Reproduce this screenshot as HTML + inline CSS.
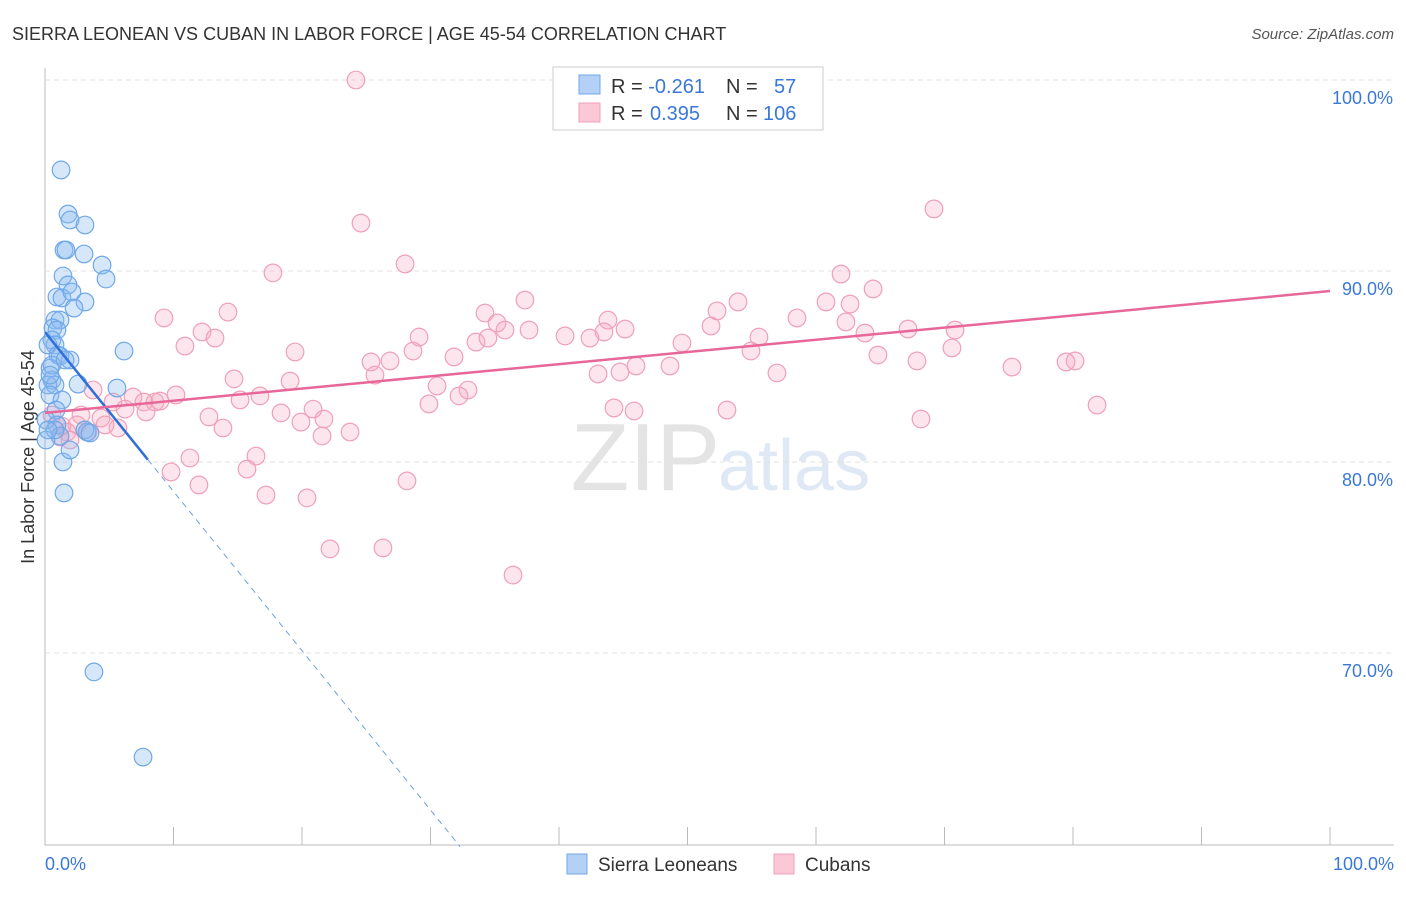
<!DOCTYPE html>
<html><head><meta charset="utf-8"><style>
body{margin:0;background:#fff;font-family:"Liberation Sans",sans-serif}
svg text{font-family:"Liberation Sans",sans-serif}
</style></head><body>
<svg id="c" width="1406" height="892" xmlns="http://www.w3.org/2000/svg">
<text x="12" y="40" font-size="18" fill="#333">SIERRA LEONEAN VS CUBAN IN LABOR FORCE | AGE 45-54 CORRELATION CHART</text>
<text x="1394" y="39" font-size="15" fill="#555" font-style="italic" text-anchor="end">Source: ZipAtlas.com</text>
<text x="720" y="490" font-size="96" fill="#e4e4e4" text-anchor="end" font-family="Liberation Serif">ZIP</text>
<text x="718" y="490" font-size="72" fill="#dfe8f5">atlas</text>
<text transform="translate(34,457) rotate(-90)" font-size="18" fill="#333" text-anchor="middle">In Labor Force | Age 45-54</text>
<g id="grid"></g><g id="pts"></g><g id="lines"></g>
<g>
<rect x="553" y="67" width="270" height="63" fill="#fff" stroke="#ccc"/>
<rect x="579" y="75" width="21" height="19" fill="#b5d0f5" stroke="#6fa8e8"/>
<rect x="579" y="103" width="21" height="19" fill="#fac8d6" stroke="#f0a0b8"/>
<text x="611" y="93" font-size="20" fill="#333">R = <tspan fill="#3a78d8">-0.261</tspan><tspan x="726">N =</tspan><tspan x="774" fill="#3a78d8">57</tspan></text>
<text x="611" y="120" font-size="20" fill="#333">R = <tspan x="650" fill="#3a78d8">0.395</tspan><tspan x="726">N =</tspan><tspan x="763" fill="#3a78d8">106</tspan></text>
</g>
<g>
<rect x="567" y="854" width="20" height="20" fill="#b5d0f5" stroke="#6fa8e8"/>
<text x="598" y="871" font-size="19" fill="#333">Sierra Leoneans</text>
<rect x="774" y="854" width="20" height="20" fill="#fac8d6" stroke="#f0a0b8"/>
<text x="805" y="871" font-size="19" fill="#333">Cubans</text>
</g>
<text x="45" y="870" font-size="18" fill="#3a78d8">0.0%</text>
<text x="1394" y="870" font-size="18" fill="#3a78d8" text-anchor="end">100.0%</text>
</svg>
<script>
const yTicks=[100,90,80,70];
const yTickLabels=["100.0%","90.0%","80.0%","70.0%"];
const bluePx=[[61,170],[68,214],[70,220],[85,225],[64,250],[66,250],[84,254],[102,265],[106,279],[63,276],[68,285],[57,297],[62,298],[72,292],[85,302],[74,308],[55,320],[60,320],[53,328],[57,330],[52,340],[55,345],[48,345],[58,355],[70,360],[60,356],[124,351],[50,368],[52,380],[48,385],[55,385],[78,384],[117,388],[50,395],[62,400],[56,410],[46,420],[57,425],[60,436],[46,440],[87,432],[63,462],[70,450],[64,493],[94,672],[143,757],[52,365],[50,375],[55,430],[48,430],[65,360],[85,430],[90,433]];
const pinkPx=[[356,80],[361,223],[934,209],[273,273],[405,264],[841,274],[873,289],[525,300],[228,312],[164,318],[485,313],[738,302],[717,311],[826,302],[850,304],[797,318],[846,322],[608,320],[497,323],[625,329],[711,326],[505,330],[529,330],[565,336],[590,338],[604,332],[419,337],[202,332],[215,338],[185,346],[476,342],[488,338],[908,329],[955,330],[865,333],[759,337],[682,343],[295,352],[413,351],[751,351],[952,348],[454,357],[371,362],[390,361],[878,355],[917,361],[1075,361],[1066,362],[1012,367],[636,366],[670,366],[598,374],[620,372],[375,375],[777,373],[234,379],[290,381],[437,386],[468,390],[459,396],[93,390],[133,397],[176,395],[260,396],[240,400],[144,402],[155,402],[160,401],[113,402],[125,409],[146,412],[313,409],[429,404],[1097,405],[81,415],[101,418],[209,417],[281,413],[324,419],[301,422],[614,408],[634,411],[727,410],[921,419],[223,428],[118,428],[77,425],[57,425],[60,437],[67,432],[322,436],[350,432],[190,458],[256,456],[171,472],[247,469],[199,485],[266,495],[307,498],[407,481],[330,549],[383,548],[513,575],[52,415],[62,426],[70,440],[105,425],[88,432]];
const blueX=bluePx.map(p=>+((p[0]-45)/12.85).toFixed(2));
const blueY=bluePx.map(p=>+(100-(p[1]-80)/19.1).toFixed(2));
const pinkX=pinkPx.map(p=>+((p[0]-45)/12.85).toFixed(2));
const pinkY=pinkPx.map(p=>+(100-(p[1]-80)/19.1).toFixed(2));
const blueTrend=[86.8,-0.834];
const pinkTrend=[82.57,0.0638];
const X=v=>45+v*12.85, Y=v=>80+(100-v)*19.1;
const NS="http://www.w3.org/2000/svg";
function mk(t,a,p){const e=document.createElementNS(NS,t);for(const k in a)e.setAttribute(k,a[k]);p.appendChild(e);return e;}
const g=document.getElementById('grid');
const ax=mk('line',{x1:45,y1:68,x2:45,y2:845,stroke:'#bbb'},g);


const bx=mk('line',{x1:45,y1:845,x2:1394,y2:845,stroke:'#bbb'},g);


yTicks.forEach((t,i)=>{
 const l=mk('line',{x1:45,x2:1394,y1:Y(t),y2:Y(t),stroke:'#e2e2e2','stroke-dasharray':'5,4'},g);
 
 
 const tx=mk('text',{x:1393,y:Y(t)+24,'font-size':18,fill:'#3a78d8','text-anchor':'end'},g);
 tx.textContent=yTickLabels[i];
 
 
});
for(let i=0;i<=10;i++){
 const l=mk('line',{x1:X(i*10),x2:X(i*10),y1:827,y2:845,stroke:'#bbb'},g);
 
 
}
const P=document.getElementById('pts');
pinkX.forEach((x,i)=>{
 const c=mk('circle',{cx:X(x),cy:Y(pinkY[i]),r:8.8,fill:'rgba(245,170,195,0.3)',stroke:'#f0a0b8','stroke-width':1.2},P);
 
 
});
blueX.forEach((x,i)=>{
 const c=mk('circle',{cx:X(x),cy:Y(blueY[i]),r:8.8,fill:'rgba(140,185,240,0.35)',stroke:'#6fa8e8','stroke-width':1.2},P);
 
 
});
const L=document.getElementById('lines');
const bEnd=8.0, bDash=32.3;
const b1=mk('line',{x1:X(0),y1:Y(blueTrend[0]),x2:X(bEnd),y2:Y(blueTrend[0]+blueTrend[1]*bEnd),stroke:'#2f6fd6','stroke-width':2.5},L);


const b2=mk('line',{x1:X(bEnd),y1:Y(blueTrend[0]+blueTrend[1]*bEnd),x2:X(bDash),y2:Y(blueTrend[0]+blueTrend[1]*bDash),stroke:'#6fa0e0','stroke-width':1,'stroke-dasharray':'6,5'},L);


const p1=mk('line',{x1:X(0),y1:Y(pinkTrend[0]),x2:X(100),y2:Y(pinkTrend[0]+pinkTrend[1]*100),stroke:'#e8679a','stroke-width':2.5},L);


</script>
</body></html>
